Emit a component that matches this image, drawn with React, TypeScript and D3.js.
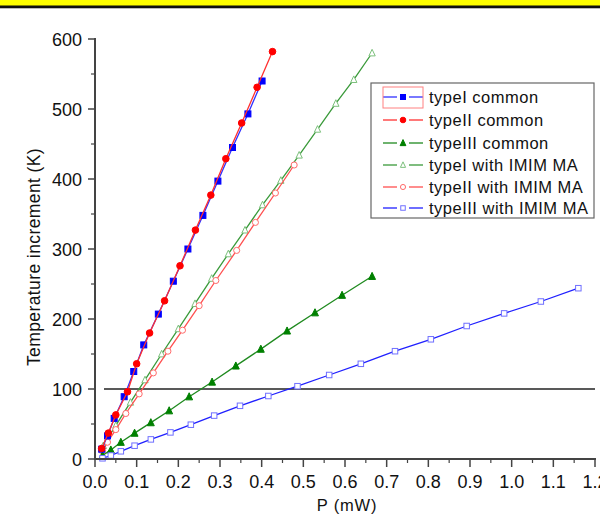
import React from "react";
import * as d3 from "d3";

// ---- data (P in mW, temperature increment in K) ----
const typeICommonP = [0.016, 0.030, 0.046, 0.070, 0.093, 0.117, 0.152, 0.188, 0.223, 0.259, 0.295, 0.330, 0.367, 0.401];
const typeICommonT = [14, 33, 58, 89, 125, 163, 207, 254, 300, 348, 397, 445, 493, 540];

const typeIICommonP = [0.016, 0.032, 0.050, 0.078, 0.100, 0.131, 0.167, 0.204, 0.241, 0.278, 0.314, 0.352, 0.389, 0.426];
const typeIICommonT = [15, 37, 63, 96, 136, 180, 226, 276, 327, 377, 429, 480, 531, 582];

const typeIIICommonP = [0.018, 0.038, 0.062, 0.095, 0.134, 0.178, 0.226, 0.281, 0.338, 0.398, 0.461, 0.528, 0.593, 0.665];
const typeIIICommonT = [5, 13, 24, 37, 52, 69, 89, 110, 133, 157, 183, 209, 234, 261];

const typeIImimP = [0.020, 0.050, 0.085, 0.120, 0.160, 0.200, 0.240, 0.280, 0.320, 0.360, 0.402, 0.446, 0.490, 0.534, 0.578, 0.621, 0.665];
const typeIImimT = [19, 48, 81, 113, 150, 186, 222, 258, 293, 327, 363, 398, 434, 471, 508, 542, 580];

const typeIIImimP = [0.018, 0.030, 0.050, 0.074, 0.106, 0.140, 0.175, 0.210, 0.250, 0.290, 0.340, 0.385, 0.433, 0.478];
const typeIIImimT = [11, 24, 42, 65, 93, 123, 154, 184, 219, 255, 298, 338, 380, 420];

const typeIIIImimP = [0.018, 0.038, 0.062, 0.095, 0.134, 0.181, 0.230, 0.286, 0.348, 0.416, 0.486, 0.562, 0.638, 0.720, 0.806, 0.892, 0.982, 1.070, 1.160];
const typeIIIImimT = [1, 5, 11, 19, 28, 38, 49, 62, 76, 90, 104, 120, 136, 154, 171, 190, 208, 225, 244];

const xTicks = [0, 0.1, 0.2, 0.3, 0.4, 0.5, 0.6, 0.7, 0.8, 0.9, 1.0, 1.1, 1.2];
const yTicks = [0, 100, 200, 300, 400, 500, 600];
const refLineT = 100;

const legendLabels = [
  "typeI common",
  "typeII common",
  "typeIII common",
  "typeI with IMIM MA",
  "typeII with IMIM MA",
  "typeIII with IMIM MA",
];

type Series = {
  xs: number[];
  ys: number[];
  line: string;
  marker: "square" | "circle" | "triangle";
  fill: string;
  stroke: string;
  label: string;
};

const series: Series[] = [
  { xs: typeIImimP, ys: typeIImimT, line: "#3a9a3a", marker: "triangle", fill: "white", stroke: "#7cc07c", label: legendLabels[3] },
  { xs: typeIIImimP, ys: typeIIImimT, line: "#ff5050", marker: "circle", fill: "white", stroke: "#ff6a6a", label: legendLabels[4] },
  { xs: typeIIICommonP, ys: typeIIICommonT, line: "#1f8a1f", marker: "triangle", fill: "#008000", stroke: "#008000", label: legendLabels[2] },
  { xs: typeIIIImimP, ys: typeIIIImimT, line: "#2020ff", marker: "square", fill: "white", stroke: "#7070ff", label: legendLabels[5] },
  { xs: typeICommonP, ys: typeICommonT, line: "#3030ff", marker: "square", fill: "#0000ff", stroke: "#0000ff", label: legendLabels[0] },
  { xs: typeIICommonP, ys: typeIICommonT, line: "#ff3030", marker: "circle", fill: "#ff0000", stroke: "#ff0000", label: legendLabels[1] },
];

const legendOrder = [4, 5, 2, 0, 1, 3];

function Marker({ kind, cx, cy, fill, stroke, size }: { kind: string; cx: number; cy: number; fill: string; stroke: string; size: number }) {
  if (kind === "square") {
    return <rect x={cx - size / 2} y={cy - size / 2} width={size} height={size} fill={fill} stroke={stroke} strokeWidth={1} />;
  }
  if (kind === "circle") {
    return <circle cx={cx} cy={cy} r={size / 2 + 0.3} fill={fill} stroke={stroke} strokeWidth={1} />;
  }
  const h = size * 1.05;
  const w = size * 1.15;
  const pts = `${cx},${cy - h / 2 - 0.8} ${cx - w / 2},${cy + h / 2} ${cx + w / 2},${cy + h / 2}`;
  return <polygon points={pts} fill={fill} stroke={stroke} strokeWidth={1} />;
}

export default function App() {
  const W = 600;
  const H = 515;
  const x = d3.scaleLinear().domain([0, 1.2]).range([95, 595]);
  const y = d3.scaleLinear().domain([0, 600]).range([459, 39]);
  const font = "Arial, 'Liberation Sans', sans-serif";

  const lineGen = (xs: number[], ys: number[]) =>
    d3.line<number>().x((_, i) => x(xs[i])).y((_, i) => y(ys[i]))(xs) || "";

  const xMinor = d3.range(0.05, 1.2, 0.1);
  const yMinor = d3.range(50, 600, 100);

  const legX = 371;
  const legY = 83;
  const rowY = [97, 120, 143, 165, 187, 208];

  return (
    <svg width={W} height={H} style={{ position: "absolute", left: 0, top: 0, background: "white" }} fontFamily={font}>
      <rect x={0} y={0} width={W} height={H} fill="white" />
      {/* top banner */}
      <rect x={0} y={0} width={W} height={6} fill="#ffff00" />
      <rect x={0} y={5.5} width={W} height={2.5} fill="#111" />
      <rect x={0} y={8} width={W} height={1} fill="#bbb" />

      {/* reference line at 100 K */}
      <line x1={104} x2={595} y1={y(refLineT)} y2={y(refLineT)} stroke="#222" strokeWidth={1.5} />

      {/* series */}
      {series.map((s, si) => (
        <g key={si}>
          <path d={lineGen(s.xs, s.ys)} fill="none" stroke={s.line} strokeWidth={1.3} />
          {s.xs.map((v, i) => (
            <Marker key={i} kind={s.marker} cx={x(v)} cy={y(s.ys[i])} fill={s.fill} stroke={s.stroke} size={s.fill === "white" ? 5.5 : 6} />
          ))}
        </g>
      ))}

      {/* axes */}
      <line x1={95} x2={95} y1={38} y2={460} stroke="#444" strokeWidth={2} />
      <line x1={94} x2={596} y1={459} y2={459} stroke="#444" strokeWidth={2} />
      {yTicks.map((t) => (
        <g key={t}>
          <line x1={88} x2={95} y1={y(t)} y2={y(t)} stroke="#444" strokeWidth={1.5} />
          <text x={82} y={y(t) + 6.5} textAnchor="end" fontSize={18} fill="#111">
            {t}
          </text>
        </g>
      ))}
      {yMinor.map((t) => (
        <line key={t} x1={91} x2={95} y1={y(t)} y2={y(t)} stroke="#444" strokeWidth={1.2} />
      ))}
      {xTicks.map((t) => (
        <g key={t}>
          <line x1={x(t)} x2={x(t)} y1={459} y2={467} stroke="#444" strokeWidth={1.5} />
          <text x={x(t)} y={488} textAnchor="middle" fontSize={18} fill="#111">
            {t.toFixed(1)}
          </text>
        </g>
      ))}
      {xMinor.map((t) => (
        <line key={t} x1={x(t)} x2={x(t)} y1={459} y2={463} stroke="#444" strokeWidth={1.2} />
      ))}

      {/* axis titles */}
      <text x={347} y={511} textAnchor="middle" fontSize={16.5} fill="#111" letterSpacing={0.8}>
        P (mW)
      </text>
      <text transform="translate(40,257) rotate(-90)" textAnchor="middle" fontSize={17.5} fill="#111" letterSpacing={0.4}>
        Temperature increment (K)
      </text>

      {/* legend */}
      <rect x={legX} y={legY} width={223} height={135} fill="white" stroke="#666" strokeWidth={1.2} />
      {legendOrder.map((si, k) => {
        const s = series[si];
        const cy = rowY[k];
        return (
          <g key={k}>
            <line x1={383} x2={397} y1={cy} y2={cy} stroke={s.line} strokeWidth={1.3} />
            <line x1={409} x2={423} y1={cy} y2={cy} stroke={s.line} strokeWidth={1.3} />
            <Marker kind={s.marker} cx={403} cy={cy} fill={s.fill} stroke={s.stroke} size={s.fill === "white" ? 4.5 : 5} />
            <text x={429} y={cy + 6} fontSize={16.5} fill="#111" letterSpacing={0.5}>
              {legendLabels[k]}
            </text>
          </g>
        );
      })}
      <rect x={383} y={87} width={40} height={21} fill="none" stroke="#ff8080" strokeWidth={1} />
    </svg>
  );
}
